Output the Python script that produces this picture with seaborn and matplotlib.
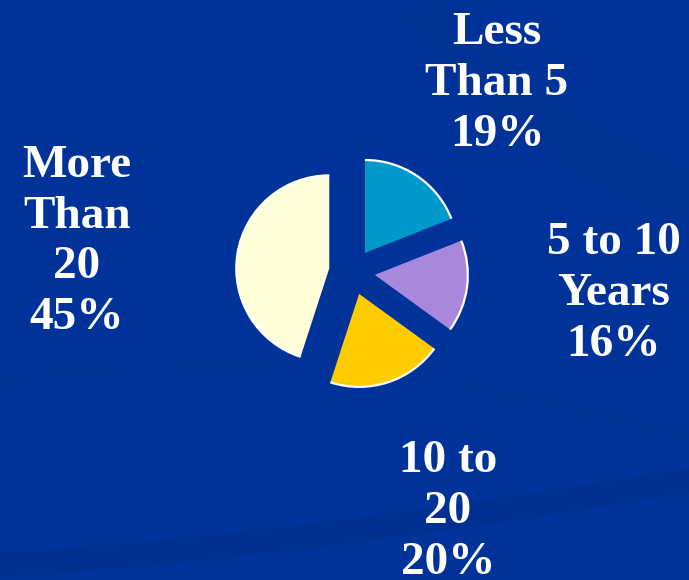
import numpy as np
import seaborn as sns
import matplotlib.pyplot as plt
from matplotlib.patches import Arc

# Data
categories = ["Less\nThan 5", "5 to 10\nYears", "10 to\n20", "More\nThan\n20"]
shares = [19, 16, 20, 45]
colors = ["#0099CC", "#A888DC", "#FFCC00", "#FFFFD9"]

# label placement (figure pixels, y from top)
label_pos = [(497, 84), (614, 294), (448, 512), (77, 242)]

sns.set_style("white")
plt.rcParams['font.family'] = ['Liberation Serif', 'DejaVu Serif']

bg = "#003399"
fig = plt.figure(figsize=(6.89, 5.8), dpi=100, facecolor=bg)
ax = fig.add_axes([0, 0, 1, 1])
ax.set_facecolor(bg)

# faint background swooshes
t = np.linspace(0, 1, 200)
ax.plot(-20 + 740 * t, 15 + 90 * t ** 1.4, color="#002E8C", lw=18, alpha=0.5, zorder=0)
ax.plot(430 + 280 * t, 560 - 300 * t + 120 * t ** 2, color="#00308F", lw=40, alpha=0.4, zorder=0)
ax.plot(-10 + 700 * t, 200 - 60 * t + 40 * np.sin(np.pi * t), color="#00318F", lw=6, alpha=0.4, zorder=0)

# pie: radius 93 px, each slice pulled out by ~23 px
wedges, _ = ax.pie(shares, colors=colors, startangle=90, counterclock=False,
                   explode=[23] * 4, center=(352, 308), radius=93,
                   wedgeprops=dict(linewidth=0))
ax.set_xlim(0, 689)
ax.set_ylim(0, 580)
ax.set_aspect("equal")
ax.axis("off")

# white rim on outer arcs
for w in wedges:
    ax.add_patch(Arc(w.center, 2 * w.r, 2 * w.r, theta1=w.theta1, theta2=w.theta2,
                     color="white", lw=1.6, zorder=3))

for cat, val, (x, y) in zip(categories, shares, label_pos):
    ax.text(x, 580 - y, f"{cat}\n{val}%", ha="center", va="center", color="white",
            fontsize=34, fontweight="bold", linespacing=1.28)

fig.savefig("out.png", dpi=100, facecolor=bg)
